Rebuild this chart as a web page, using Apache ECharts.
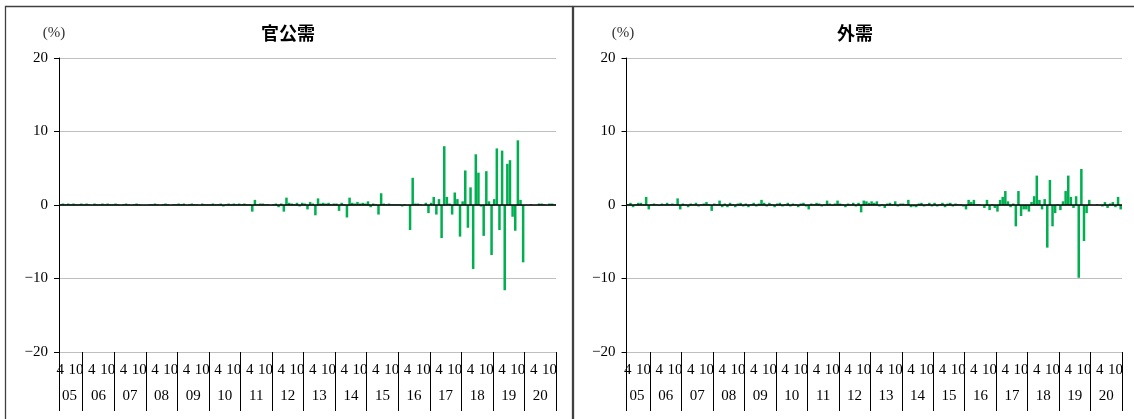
<!DOCTYPE html>
<html>
<head>
<meta charset="utf-8">
<script src="https://cdn.jsdelivr.net/npm/echarts@6/dist/echarts.min.js"></script>
<style>html,body{margin:0;padding:0;background:#fff;}#c{width:1134px;height:419px;}</style>
</head>
<body>
<div id="c"></div>
<script>
// ---- data ----
const years = [2005,2006,2007,2008,2009,2010,2011,2012,2013,2014,2015,2016,2017,2018,2019,2020];
const firstMonth = 4; // series starts April 2005
const yearLabels = ['05','06','07','08','09','10','11','12','13','14','15','16','17','18','19','20'];
const monthTickLabels = [4, 10];
const panelTitles = ['官公需', '外需'];
const unitLabel = '(%)';
const yMin = -20, yMax = 20, yStep = 10;

// 官公需 (monthly, Apr 2005 - Dec 2020)
const kankoujuValues = [
  0.1,0.2,0.1,0.2,0.1,0.2,0.1,0.1,0.2,                 // 2005 Apr-Dec
  0.1,0.2,0.1,0,0.2,0.1,0.1,0.2,0.1,0.2,0.1,0.1,       // 2006
  0.2,0.1,0,0.1,0.2,0.1,0,0.1,0.2,0.1,0,0,             // 2007
  0,0.1,0.1,0.2,0.1,0,0.1,0.2,0.1,0,0.1,0.1,           // 2008
  0.2,0.1,0.2,0,0.1,0.2,0.1,0.1,0,0.2,0.1,0.1,         // 2009
  0.1,0.2,0.1,0.1,0.2,-0.2,0.1,0.2,0.1,0.2,0.1,0.2,    // 2010
  0.1,0.2,0.1,0.1,-0.9,0.7,0.1,0.2,0.2,0.1,0.1,0,      // 2011
  0.1,0.2,-0.3,0.2,-0.9,1.0,0.3,0.2,0.1,0.3,-0.2,0.3,  // 2012
  0.2,-0.6,0.4,0.2,-1.4,0.9,0.2,0.3,0.2,0.3,0.1,0.2,   // 2013
  0.2,-0.8,0.3,0.1,-1.7,1.0,0.3,0.2,0.4,0.2,0.3,0.2,   // 2014
  0.5,-0.3,0.2,0.1,-1.3,1.6,0.2,0.1,0.2,0.1,0.1,0.1,   // 2015
  0.1,-0.2,0.1,0,-3.4,3.7,0.2,0.2,0.1,0,0.3,-1.1,      // 2016
  0.3,1.1,-1.3,0.8,-4.5,8.0,1.1,0.2,-1.3,1.7,0.8,-4.3, // 2017
  0.5,4.7,-3.1,2.4,-8.7,6.9,4.4,-0.2,-4.2,4.6,0.5,-6.8,// 2018
  0.8,7.7,-3.4,7.4,-11.6,5.6,6.1,-1.6,-3.5,8.8,0.7,-7.8,// 2019
  0,0,0.1,0,0,0.2,0.2,0.1,0,0.2,0.2,0.1                // 2020
];

// 外需 (monthly, Apr 2005 - Dec 2020)
const gaijuValues = [
  0.1,0.3,-0.3,0.1,0.3,0.3,0.1,1.1,-0.6,                 // 2005 Apr-Dec
  0.1,0.2,0.1,-0.1,0.2,0.1,0.3,0.1,0.2,0.1,0.9,-0.6,     // 2006
  0.2,0.1,-0.3,0.2,0.1,0.3,-0.2,0.1,0.2,0.4,0.1,-0.8,    // 2007
  0.2,0.1,0.6,-0.3,0.2,-0.3,0.3,0.1,-0.3,0.2,0.3,-0.2,   // 2008
  0.2,-0.3,0.1,0.3,-0.2,0.2,0.7,0.3,-0.2,0.3,0.1,-0.3,   // 2009
  0.2,0.3,-0.2,0.1,0.3,-0.2,0.2,0.1,-0.3,0.2,0.3,-0.2,   // 2010
  -0.6,0.2,0.1,0.3,0.2,-0.2,0.1,0.6,0.2,-0.1,0.2,0.6,    // 2011
  0.2,0.1,-0.3,0.2,0.1,0.3,-0.2,0.3,-1.0,0.6,0.5,0.3,    // 2012
  0.5,0.3,0.5,-0.2,0.1,-0.4,0.2,0.3,0.1,0.5,-0.2,0.2,    // 2013
  0.2,0.1,0.7,-0.3,-0.2,-0.3,0.2,0.3,-0.2,0.1,0.3,-0.2,  // 2014
  0.3,-0.2,0.1,0.3,-0.3,0.2,0.3,-0.2,0.2,0.1,0.1,-0.2,   // 2015
  -0.6,0.7,0.4,0.7,0.1,0.1,0,-0.4,0.7,-0.7,0.1,-0.4,     // 2016
  -0.9,0.7,1.1,1.9,0.5,-0.3,0.2,-2.9,1.9,-1.5,-0.6,-0.6, // 2017
  -0.9,0.4,1.2,4.0,0.7,-0.6,0.8,-5.8,3.4,-2.9,-1.1,0.1,  // 2018
  -0.7,0.5,1.9,4.0,1.1,-0.4,1.2,-9.9,4.9,-4.9,-1.1,0.7,  // 2019
  0,0,0.1,0,-0.2,0.4,-0.4,0.2,0.4,-0.3,1.1,-0.6          // 2020
];

// ---- categories (year, month) ----
const categories = [];
const catYear = [], catMonth = [];
years.forEach(function (y, yi) {
  for (let m = (yi === 0 ? firstMonth : 1); m <= 12; m++) {
    categories.push(y + '-' + m);
    catYear.push(yi);
    catMonth.push(m);
  }
});
// index where each year's label is centred
const yearLabelIdx = {};
years.forEach(function (y, yi) {
  yearLabelIdx[categories.indexOf(y + '-' + (yi === 0 ? 8 : 7))] = yi;
});

const SERIF = '"Liberation Serif", "DejaVu Serif", serif';
const GOTHIC = '"Noto Sans CJK JP", "Noto Sans", sans-serif';

const grids = [
  { left: 59, top: 58, width: 497, height: 294 },
  { left: 626.5, top: 58, width: 495.5, height: 294 }
];

const xAxes = [], yAxes = [], series = [];
[kankoujuValues, gaijuValues].forEach(function (vals, gi) {
  // month row + year separators
  xAxes.push({
    type: 'category', gridIndex: gi, data: categories, position: 'bottom',
    boundaryGap: true,
    axisLine: { show: false, onZero: false },
    axisTick: {
      show: true, length: 59, inside: false,
      interval: function (idx) { return idx === 0 || catMonth[idx] === 1; },
      lineStyle: { color: '#000', width: 1 }
    },
    axisLabel: {
      show: true, margin: 11, fontFamily: SERIF, fontSize: 15, color: '#000',
      interval: function (idx) { return monthTickLabels.indexOf(catMonth[idx]) >= 0; },
      formatter: function (v, idx) { return String(catMonth[idx]); }
    },
    splitLine: { show: false }
  });
  // year row
  xAxes.push({
    type: 'category', gridIndex: gi, data: categories, position: 'bottom',
    offset: 27, boundaryGap: true,
    axisLine: { show: false, onZero: false },
    axisTick: { show: false },
    axisLabel: {
      show: true, margin: 10, fontFamily: SERIF, fontSize: 15, color: '#000',
      padding: [0, 2.6, 0, 0],
      interval: function (idx) { return yearLabelIdx[idx] !== undefined; },
      formatter: function (v, idx) { return yearLabels[yearLabelIdx[idx]]; }
    },
    splitLine: { show: false }
  });
  yAxes.push({
    type: 'value', gridIndex: gi, min: yMin, max: yMax, interval: yStep,
    axisLine: { show: true, lineStyle: { color: '#000', width: 1 } },
    axisTick: { show: true, length: 5, inside: false, lineStyle: { color: '#000' } },
    axisLabel: {
      margin: 11, fontFamily: SERIF, fontSize: 15, color: '#000',
      formatter: function (v) { return v < 0 ? '\u2212' + Math.abs(v) : String(v); }
    },
    splitLine: { show: true, lineStyle: { color: '#bfbfbf', width: 1.2 } }
  });
  series.push({
    type: 'bar', xAxisIndex: gi * 2, yAxisIndex: gi, data: vals,
    barCategoryGap: '4%',
    itemStyle: { color: '#00B050' },
    silent: true, animation: false,
    markLine: {
      silent: true, symbol: 'none', animation: false,
      label: { show: false },
      lineStyle: { color: '#000', width: 1.5, type: 'solid' },
      data: [{ yAxis: 0 }]
    }
  });
});

const graphics = [
  { type: 'rect', shape: { x: 5.5, y: 6.5, width: 567, height: 430 },
    style: { fill: 'none', stroke: '#404040', lineWidth: 1.3 }, z: 10 },
  { type: 'rect', shape: { x: 573.5, y: 6.5, width: 580, height: 430 },
    style: { fill: 'none', stroke: '#404040', lineWidth: 1.3 }, z: 10 },
  { type: 'text', x: 288, y: 33, style: { text: panelTitles[0], font: 'bold 18px ' + GOTHIC, fill: '#000', align: 'center', verticalAlign: 'middle' } },
  { type: 'text', x: 855, y: 33, style: { text: panelTitles[1], font: 'bold 18px ' + GOTHIC, fill: '#000', align: 'center', verticalAlign: 'middle' } },
  { type: 'text', x: 54, y: 33, style: { text: unitLabel, font: '15px ' + SERIF, fill: '#333', align: 'center', verticalAlign: 'middle' } },
  { type: 'text', x: 623, y: 33, style: { text: unitLabel, font: '15px ' + SERIF, fill: '#333', align: 'center', verticalAlign: 'middle' } }
];

const chart = echarts.init(document.getElementById('c'), null, { renderer: 'canvas' });
chart.setOption({
  animation: false,
  backgroundColor: '#fff',
  grid: grids,
  xAxis: xAxes,
  yAxis: yAxes,
  series: series,
  graphic: graphics
});
</script>
</body>
</html>
